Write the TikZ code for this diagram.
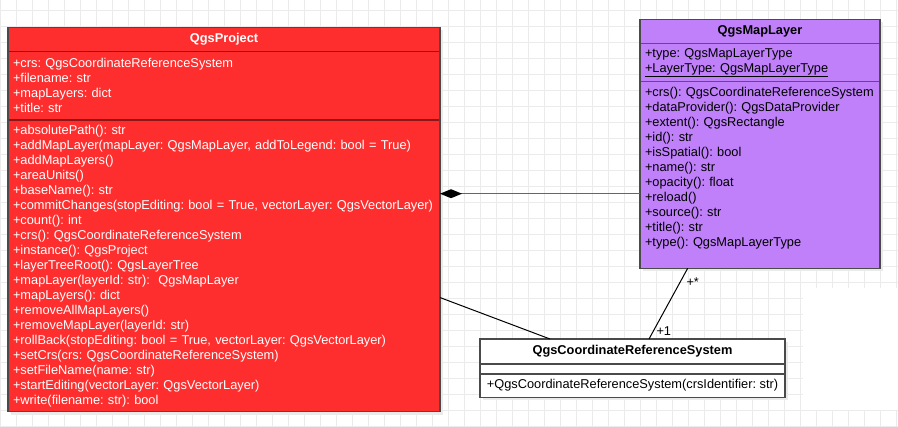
\documentclass[tikz,border=0pt]{standalone}
\usepackage{fontspec}
\setmainfont{Liberation Sans}
\usetikzlibrary{positioning,arrows.meta,backgrounds}

\definecolor{prjred}{HTML}{FF2E2E}
\definecolor{prjdiv}{HTML}{8A1818}
\definecolor{lyrviolet}{HTML}{BF80FA}
\definecolor{lyrdiv}{HTML}{5F4F70}
\definecolor{boxline}{HTML}{4A4A4A}
\definecolor{gridgray}{HTML}{EBEBEB}
\definecolor{shadowgray}{HTML}{EAEAEA}
\definecolor{linkgray}{HTML}{666666}

\begin{document}
\begin{tikzpicture}[x=1pt, y=-1pt,
  classfont/.style={font=\fontsize{12.8}{15}\selectfont\frenchspacing},
  part/.style={classfont, draw, line width=1.5pt, outer sep=0pt, inner xsep=5pt, inner ysep=0pt},
  title/.style={part, font=\fontsize{12.8}{15}\selectfont\bfseries, minimum height=24.4pt},
  members/.style={part, align=left, text width=#1},
  prjpart/.style={fill=prjred, draw=prjdiv, text=white},
  lyrpart/.style={fill=lyrviolet, draw=lyrdiv, text=black},
  crspart/.style={fill=white, draw=boxline, text=black},
  frame/.style={draw=boxline, line width=1.5pt},
  gridline/.style={draw=gridgray, line width=1pt},
  compose/.style={draw=linkgray, line width=1.5pt, -{Diamond[length=22pt, width=9pt, color=black]}},
  assoc/.style={draw=black, line width=1pt},
]
  \useasboundingbox (0,0) rectangle (898,427);

  % QgsProject
  \node[title, prjpart, minimum width=432pt, anchor=north west] (prj-head) at (8,27.3) {QgsProject};
  \node[members=422pt, prjpart, minimum height=68.3pt, below=0pt of prj-head] (prj-attr)
    {+crs: QgsCoordinateReferenceSystem\\
     +filename: str\\
     +mapLayers: dict\\
     +title: str};
  \node[members=422pt, prjpart, minimum height=291.7pt, below=0pt of prj-attr] (prj-ops)
    {+absolutePath(): str\\
     +addMapLayer(mapLayer: QgsMapLayer, addToLegend: bool = True)\\
     +addMapLayers()\\
     +areaUnits()\\
     +baseName(): str\\
     +commitChanges(stopEditing: bool = True, vectorLayer: QgsVectorLayer)\\
     +count(): int\\
     +crs(): QgsCoordinateReferenceSystem\\
     +instance(): QgsProject\\
     +layerTreeRoot(): QgsLayerTree\\
     +mapLayer(layerId: str): \ QgsMapLayer\\
     +mapLayers(): dict\\
     +removeAllMapLayers()\\
     +removeMapLayer(layerId: str)\\
     +rollBack(stopEditing: bool = True, vectorLayer: QgsVectorLayer)\\
     +setCrs(crs: QgsCoordinateReferenceSystem)\\
     +setFileName(name: str)\\
     +startEditing(vectorLayer: QgsVectorLayer)\\
     +write(filename: str): bool};
  \draw[frame] (prj-head.north west) rectangle (prj-ops.south east);

  % QgsMapLayer
  \node[title, lyrpart, minimum width=240pt, anchor=north west] (lyr-head) at (640,19.3) {QgsMapLayer};
  \node[members=230pt, lyrpart, minimum height=38pt, below=0pt of lyr-head] (lyr-attr)
    {+type: QgsMapLayerType\\
     \underline{+LayerType: QgsMapLayerType}};
  \node[members=230pt, lyrpart, minimum height=186.6pt, text depth=165.5pt, below=0pt of lyr-attr] (lyr-ops)
    {+crs(): QgsCoordinateReferenceSystem\\
     +dataProvider(): QgsDataProvider\\
     +extent(): QgsRectangle\\
     +id(): str\\
     +isSpatial(): bool\\
     +name(): str\\
     +opacity(): float\\
     +reload()\\
     +source(): str\\
     +title(): str\\
     +type(): QgsMapLayerType};
  \draw[frame] (lyr-head.north west) rectangle (lyr-ops.south east);

  % QgsCoordinateReferenceSystem
  \node[title, crspart, minimum width=305pt, minimum height=25pt, anchor=north west] (crs-head) at (480,339) {QgsCoordinateReferenceSystem};
  \node[part, crspart, minimum width=305pt, minimum height=10pt, below=0pt of crs-head] (crs-attr) {};
  \node[part, crspart, minimum width=305pt, minimum height=23.3pt, below=0pt of crs-attr] (crs-ops)
    {+QgsCoordinateReferenceSystem(crsIdentifier: str)};
  \draw[frame] (crs-head.north west) rectangle (crs-ops.south east);

  % links
  \draw[compose] ([yshift=-18.7pt]lyr-ops.west) -- ([yshift=-18.7pt]lyr-ops.west -| prj-ops.east);
  \draw[assoc] ([yshift=-31.7pt]prj-ops.east) -- ([xshift=-82.5pt]crs-head.north);
  \draw[assoc] ([xshift=-72.3pt]lyr-ops.south) -- ([xshift=16.5pt]crs-head.north)
    node[at start, classfont, anchor=north west, inner sep=0pt, xshift=-1.7pt, yshift=-8.7pt] (card-many) {+*}
    node[at end, classfont, anchor=base west, inner sep=0pt, xshift=7pt, yshift=3pt] (card-one) {+1};

  \begin{scope}[on background layer]
    \fill[white] (0,0) rectangle (898,427);
    \foreach \k in {0,...,56}
      \draw[gridline] (16*\k+0.7,0) -- (16*\k+0.7,427);
    \foreach \k in {0,...,26}
      \draw[gridline] (0,16*\k+11) -- (898,16*\k+11);
    \fill[white] (803,288) rectangle (898,410);
    \foreach \c in {prj,lyr,crs}
      \fill[shadowgray] ([shift={(3,3)}]\c-head.north west) rectangle ([shift={(3,3)}]\c-ops.south east);
  \end{scope}
\end{tikzpicture}
\end{document}
